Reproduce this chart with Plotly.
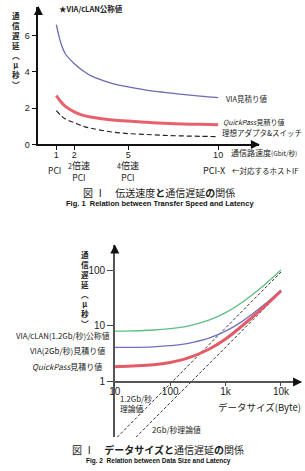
import plotly.graph_objects as go

W, H = 305, 471
def X(px): return px / W
def Y(py): return 1 - py / H

# ---- Data: top chart (link speed vs latency) ----
speed = [1, 1.25, 1.5, 2, 2.5, 3, 4, 5, 6, 7, 8, 9, 10]
via_est = [6.6, 5.6, 5.0, 4.45, 4.05, 3.75, 3.4, 3.17, 3.0, 2.87, 2.76, 2.66, 2.58]
quickpass_est = [2.7, 2.35, 2.1, 1.8, 1.6, 1.5, 1.36, 1.29, 1.22, 1.17, 1.13, 1.11, 1.09]
ideal = [1.87, 1.6, 1.4, 1.2, 1.0, 0.88, 0.7, 0.6, 0.55, 0.5, 0.47, 0.45, 0.43]
top_xticks = [1, 2, 5, 10]
top_yticks = [0, 2, 4, 6]

# ---- Data: bottom chart (data size vs latency) ----
size = [10, 20, 50, 100, 200, 500, 1000, 2000, 5000, 10000]
via_clan = [8.0, 8.1, 8.4, 8.9, 9.8, 12.6, 17.2, 26.5, 54, 100]
via_2g = [4.1, 4.1, 4.2, 4.4, 4.8, 6.0, 8.0, 12.0, 24, 44]
quickpass_2 = [1.85, 1.9, 2.0, 2.2, 2.6, 3.8, 5.8, 10, 22, 42]
theory_12_x = [11, 10000]
theory_12_y = [0.1, 92]
theory_2_x = [24, 10000]
theory_2_y = [0.1, 41]
bot_xticks = [10, 100, 1000, 10000]
bot_xticktext = ["10", "100", "1k", "10k"]
bot_yticks = [1, 10, 100]

ytitle_chars = ["通", "信", "遅", "延", "︵", "μ", "秒", "︶"]

fig = go.Figure()
# top
fig.add_trace(go.Scatter(x=speed, y=via_est, mode="lines", line=dict(color="#6a6ab4", width=1.3, shape="spline"), xaxis="x", yaxis="y"))
fig.add_trace(go.Scatter(x=speed, y=quickpass_est, mode="lines", line=dict(color="#e8606c", width=3, shape="spline"), xaxis="x", yaxis="y"))
fig.add_trace(go.Scatter(x=speed, y=ideal, mode="lines", line=dict(color="#222222", width=1.2, dash="5px,3px", shape="spline"), xaxis="x", yaxis="y"))
# bottom
fig.add_trace(go.Scatter(x=theory_12_x, y=theory_12_y, mode="lines", line=dict(color="#333333", width=1, dash="3px,2px"), xaxis="x2", yaxis="y2"))
fig.add_trace(go.Scatter(x=theory_2_x, y=theory_2_y, mode="lines", line=dict(color="#333333", width=1, dash="3px,2px"), xaxis="x2", yaxis="y2"))
fig.add_trace(go.Scatter(x=size, y=via_clan, mode="lines", line=dict(color="#5cbf80", width=1.3, shape="spline"), xaxis="x2", yaxis="y2"))
fig.add_trace(go.Scatter(x=size, y=via_2g, mode="lines", line=dict(color="#7070bc", width=1.3, shape="spline"), xaxis="x2", yaxis="y2"))
fig.add_trace(go.Scatter(x=size, y=quickpass_2, mode="lines", line=dict(color="#e45a66", width=3, shape="spline"), xaxis="x2", yaxis="y2"))

tickfont = dict(family="Liberation Sans, Arial, sans-serif", size=9, color="#222")
tickfont2 = dict(family="Liberation Sans, Arial, sans-serif", size=10, color="#222")
fig.update_layout(
    width=W, height=H, margin=dict(l=0, r=0, t=0, b=0),
    paper_bgcolor="white", plot_bgcolor="rgba(0,0,0,0)", showlegend=False,
    font=dict(family="Noto Sans CJK JP", color="#222"),
    xaxis=dict(domain=[X(33), X(258)], range=[0, 12.27], anchor="y", tickvals=top_xticks,
               ticks="outside", ticklen=4, tickcolor="#111", showline=True, linecolor="#111", linewidth=1.5,
               showgrid=False, zeroline=False, tickfont=tickfont, ticklabelstandoff=-3),
    yaxis=dict(domain=[Y(146), Y(7)], range=[0, 7.58], anchor="x", tickvals=top_yticks,
               ticks="outside", ticklen=5, tickcolor="#111", showline=True, linecolor="#111", linewidth=1.5,
               showgrid=False, zeroline=False, tickfont=tickfont),
    xaxis2=dict(type="log", domain=[X(111), X(301)], range=[1, 4.363], anchor="free", position=Y(386),
                tickvals=bot_xticks, ticktext=bot_xticktext, ticks="outside", ticklen=3, tickcolor="#444",
                showline=True, linecolor="#555", linewidth=1.5, showgrid=False, zeroline=False,
                tickfont=tickfont2, ticklabelstandoff=-3),
    yaxis2=dict(type="log", domain=[Y(442), Y(248)], range=[-1, 2.442], anchor="x2",
                tickvals=bot_yticks, ticks="outside", ticklen=6, tickcolor="#444",
                showline=True, linecolor="#555", linewidth=1.5, showgrid=False, zeroline=False,
                tickfont=tickfont2),
)

# arrowheads at the axis ends
def arrow(px, py, direction, color):
    if direction == "up":
        path = "M -4.5 -9 L 4.5 -9 L 0 0 Z"
    else:
        path = "M -9 -4.5 L -9 4.5 L 0 0 Z"
    fig.add_shape(type="path", xref="paper", yref="paper", xsizemode="pixel", ysizemode="pixel",
                  xanchor=X(px), yanchor=Y(py), path=path, fillcolor=color, line=dict(color=color, width=0))

arrow(33, 6, "up", "#111")
arrow(259, 146, "right", "#111")
arrow(111, 247, "up", "#111")
arrow(302, 386, "right", "#111")

def txt(t, px, py, xa="left", sz=8, ya="middle", fam="Noto Sans CJK JP", color="#222"):
    fig.add_annotation(text=t, x=X(px), y=Y(py), xref="paper", yref="paper", xanchor=xa, yanchor=ya,
                       showarrow=False, font=dict(size=sz, family=fam, color=color), borderpad=0)

# vertical axis titles, one character per line
vt = "<b>" + "<br>".join(ytitle_chars) + "</b>"
txt(vt, 10, 9, xa="center", ya="top", sz=7.6)
txt(vt, 81, 251, xa="center", ya="top", sz=7.6)

# top labels
txt("<b>★VIA/cLAN公称値</b>", 53, 9, sz=7.5)
txt("VIA見積り値", 223, 100, sz=7.5)
txt("<i>QuickPass</i>見積り値", 220, 123, sz=7)
txt("理想アダプタ&スイッチ", 219, 134, sz=7.5)
txt("通信路速度<span style='font-size:6.5px'>(Gbit/秒)</span>", 228, 154, sz=8)
txt("PCI", 49, 172, xa="center", sz=8.5)
txt("<span style='font-size:7px'>2</span>倍速<br><span style='font-size:8.5px'>PCI</span>", 74, 172.5, xa="center", sz=9)
txt("<span style='font-size:7px'>4</span>倍速<br><span style='font-size:8.5px'>PCI</span>", 124, 172.5, xa="center", sz=9)
txt("PCI-X", 212, 172, xa="center", sz=9)
txt("←対応するホストIF", 230, 172, sz=7.5)
txt("図 Ⅰ　伝送速度<b>と</b>通信遅延<b>の</b>関係", 156, 195, xa="center", sz=10)
txt("<b>Fig. 1  Relation between Transfer Speed and Latency</b>", 157, 205.5, xa="center", sz=7.5,
    fam="Liberation Sans Narrow, Liberation Sans, sans-serif", color="#111")

# bottom labels
txt("VIA/cLAN(1.2Gb/秒)公称値", 107, 339, xa="right", sz=7.8)
txt("VIA(2Gb/秒)見積り値", 102, 354.5, xa="right", sz=8)
txt("<i>QuickPass</i>見積り値", 99, 370, xa="right", sz=8)
txt("1.2Gb/秒", 115, 403, sz=7.8)
txt("理論値", 115, 413, sz=7.8)
txt("2Gb/秒理論値", 148, 434, sz=7.8)
txt("データサイズ(Byte)", 215, 411, sz=9.5)
txt("図 Ⅰ　<b>データサイズと</b>通信遅延<b>の</b>関係", 155, 454, xa="center", sz=10)
txt("<b>Fig. 2  Relation between Data Size and Latency</b>", 156, 466, xa="center", sz=6.5,
    fam="Liberation Sans Narrow, Liberation Sans, sans-serif", color="#111")

fig.write_html("out.html")
